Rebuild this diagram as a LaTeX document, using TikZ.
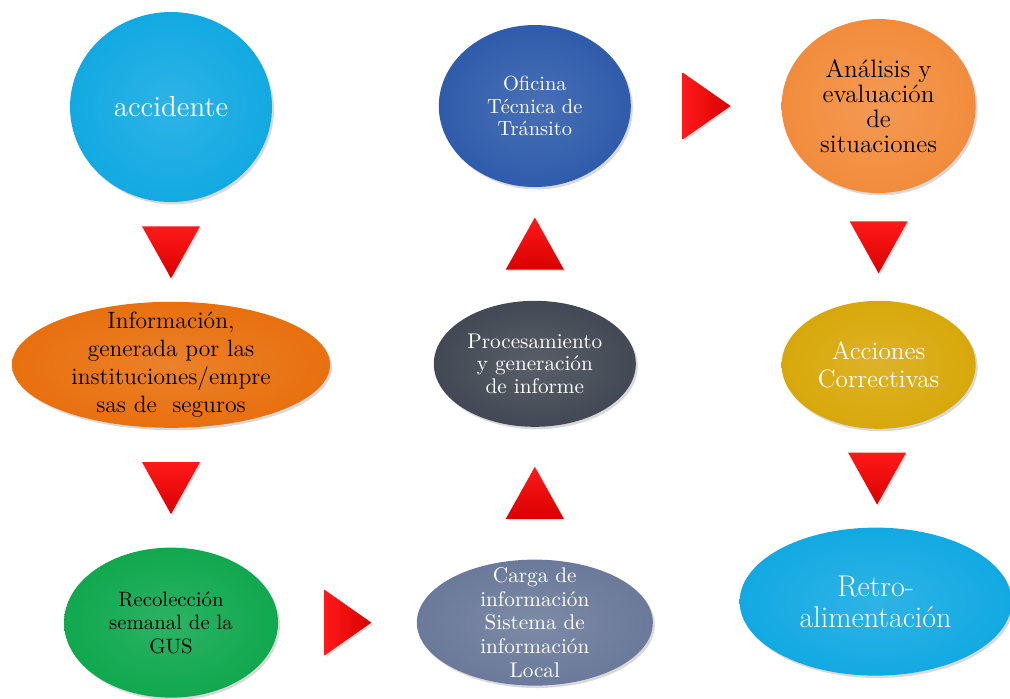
\documentclass[tikz,border=0pt]{standalone}
\usepackage{fontspec}
\usetikzlibrary{shapes,positioning,calc,shadows}

\definecolor{cielo}{HTML}{12A9E2}
\definecolor{naranjo}{HTML}{E8700E}
\definecolor{verde}{HTML}{10A84F}
\definecolor{pizarra}{HTML}{6B7A9A}
\definecolor{grafito}{HTML}{434954}
\definecolor{azul}{HTML}{2F5CAB}
\definecolor{salmon}{HTML}{F28C3C}
\definecolor{dorado}{HTML}{D8A80A}

\tikzstyle{block} = [ellipse, align=center, inner xsep=0pt, inner ysep=-15pt, drop shadow={opacity=0.3, shadow xshift=1pt, shadow yshift=-1.2pt}]
\tikzstyle{tinte} = [inner color=#1!88!white, outer color=#1]
\tikzstyle{flecha} = [isosceles triangle, isosceles triangle stretches, inner sep=0pt, anchor=lower side, top color=red!90!white, bottom color=red!85!black, drop shadow={opacity=0.25, shadow xshift=0.8pt, shadow yshift=-0.8pt}]
\tikzstyle{abajo} = [flecha, shape border rotate=270, minimum width=29pt, minimum height=26pt]
\tikzstyle{arriba} = [flecha, shape border rotate=90, minimum width=29pt, minimum height=26pt]
\tikzstyle{derecha} = [flecha, shape border rotate=0, left color=red!90!white, right color=red!85!black, minimum width=33pt, minimum height=23.5pt]

\begin{document}
\begin{tikzpicture}[node distance=55pt and 70pt]
    \useasboundingbox (0,0) rectangle (505pt,-349pt);

    % primera columna
    \node [block, tinte=cielo, text=white, minimum width=101pt, minimum height=95pt, font=\fontsize{14.5}{15}\selectfont] (accidente) at (85.5pt,-53.5pt) {accidente};
    \node [block, tinte=naranjo, minimum width=159pt, minimum height=63pt, font=\fontsize{11.8}{14}\selectfont, below=49.5pt of accidente] (informacion) {Información,\\generada por las\\instituciones/empre\\sas de~ seguros};
    \node [block, tinte=verde, minimum width=107pt, minimum height=75pt, font=\fontsize{10.4}{11.7}\selectfont, below=59.5pt of informacion] (recoleccion) {Recolección\\semanal de la\\GUS};

    % segunda columna
    \node [block, tinte=pizarra, text=white, minimum width=118pt, minimum height=63pt, font=\fontsize{10.6}{11.9}\selectfont, right=69pt of recoleccion] (carga) {Carga de\\información\\Sistema de\\información\\Local};
    \node [block, tinte=grafito, text=white, minimum width=101pt, minimum height=63pt, font=\fontsize{10.6}{11.3}\selectfont, above=66pt of carga] (procesamiento) {Procesamiento\\y generación\\de informe};
    \node [block, tinte=azul, text=white, minimum width=96pt, minimum height=81pt, font=\fontsize{10.2}{11.3}\selectfont, above=56.5pt of procesamiento] (oficina) {Oficina\\Técnica de\\Tránsito};

    % tercera columna
    \node [block, tinte=salmon, minimum width=97pt, minimum height=87pt, font=\fontsize{12.6}{12.6}\selectfont, right=75pt of oficina] (analisis) {Análisis y\\evaluación\\de\\situaciones};
    \node [block, tinte=dorado, text=white, minimum width=97pt, minimum height=64pt, font=\fontsize{12.6}{14}\selectfont, below=53.5pt of analisis] (acciones) {Acciones\\Correctivas};
    \node [block, tinte=cielo, text=white, minimum width=136pt, minimum height=74pt, font=\fontsize{15}{15.5}\selectfont, below=49pt of acciones, xshift=-1.5pt] (retro) {Retro-\\alimentación};

    % flechas (base del triangulo a media altura del hueco + medio triangulo)
    \node [abajo] (f1) at ($(accidente.south)!0.5!(informacion.north)+(0,13pt)$) {};
    \node [abajo] (f2) at ($(informacion.south)!0.5!(recoleccion.north)+(0,13pt)$) {};
    \node [derecha] (f3) at ($(recoleccion.east)!0.5!(carga.west)+(-11.75pt,0)$) {};
    \node [arriba] (f4) at ($(carga.north)!0.5!(procesamiento.south)+(0,-13pt)$) {};
    \node [arriba] (f5) at ($(procesamiento.north)!0.5!(oficina.south)+(0,-13pt)$) {};
    \node [derecha, minimum width=33.5pt, minimum height=24pt] (f6) at ($(oficina.east)!0.5!(analisis.west)+(-12pt,0)$) {};
    \node [abajo] (f7) at ($(analisis.south)!0.5!(acciones.north)+(0,13pt)$) {};
    \node [abajo] (f8) at ($(acciones.south)!0.5!(retro.north)+(0,13pt)$) {};
\end{tikzpicture}
\end{document}
